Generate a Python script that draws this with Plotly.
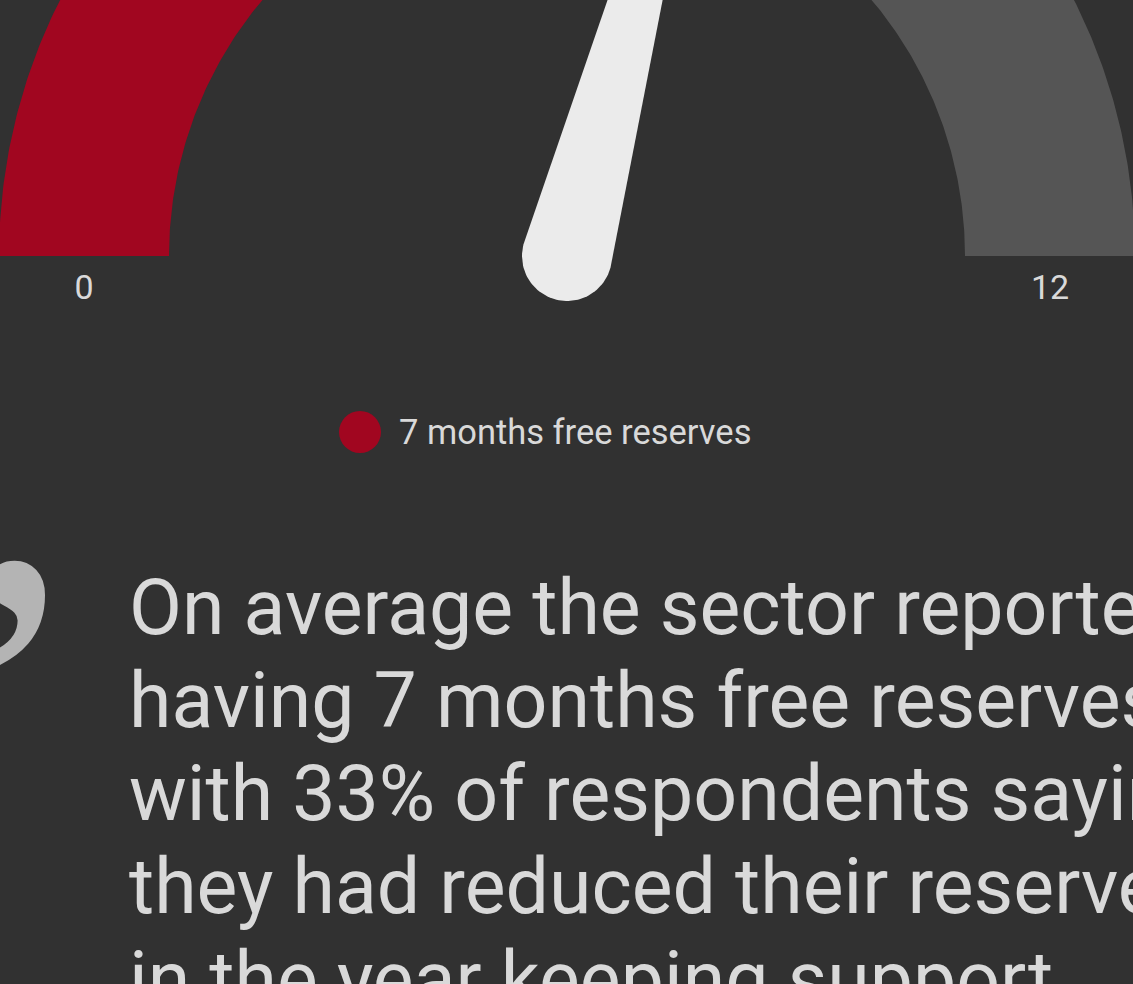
import numpy as np
import plotly.graph_objects as go

# ---- data ----
gauge_min = 0
gauge_max = 12
value = 7
series_name = "7 months free reserves"
tick_labels = ["0", "12"]
quote_lines = [
    "On average the sector reported",
    "having 7 months free reserves,",
    "with 33% of respondents saying",
    "they had reduced their reserves",
    "in the year keeping support",
]

# ---- style / layout ----
W, H = 1133, 984
BG = "#313131"
RED = "#A10620"
GREY = "#555555"
NEEDLE = "#EBEBEB"
TXT = "#D9D9D9"
cx, cy = 567, 256
r_in, r_out = 398, 568


def ang(v):
    return np.pi * (1 - (v - gauge_min) / (gauge_max - gauge_min))


def band(v0, v1, n=200):
    t = np.linspace(ang(v0), ang(v1), n)
    xo = cx + r_out * np.cos(t)
    yo = cy - r_out * np.sin(t)
    xi = cx + r_in * np.cos(t[::-1])
    yi = cy - r_in * np.sin(t[::-1])
    return np.r_[xo, xi, xo[:1]], np.r_[yo, yi, yo[:1]]


fig = go.Figure()
for v0, v1, col in [(value, gauge_max, GREY), (gauge_min, value, RED)]:
    bx, by = band(v0, v1)
    fig.add_trace(go.Scatter(x=bx, y=by, mode="lines", fill="toself",
                             fillcolor=col, line=dict(width=0, color=col),
                             hoverinfo="skip", showlegend=False))

# needle
a = ang(value)
ux, uy = np.cos(a), -np.sin(a)          # direction (pixel coords, y down)
px_, py_ = -uy, ux                      # perpendicular
base_w, top_w, L = 90, 15, 540
pts_x, pts_y = [], []
for t in np.linspace(0, np.pi, 60):
    dx = np.cos(t) * px_ - np.sin(t) * ux
    dy = np.cos(t) * py_ - np.sin(t) * uy
    pts_x.append(cx + base_w / 2 * dx)
    pts_y.append(cy + base_w / 2 * dy)
tipL = (cx + L * ux - top_w / 2 * px_, cy + L * uy - top_w / 2 * py_)
tipR = (cx + L * ux + top_w / 2 * px_, cy + L * uy + top_w / 2 * py_)
pts_x += [tipL[0], tipR[0], pts_x[0]]
pts_y += [tipL[1], tipR[1], pts_y[0]]
fig.add_trace(go.Scatter(x=pts_x, y=pts_y, mode="lines", fill="toself",
                         fillcolor=NEEDLE, line=dict(width=0, color=NEEDLE),
                         hoverinfo="skip", showlegend=False))

# tick labels at band mid radius
r_mid = (r_in + r_out) / 2
lab_x = [cx + r_mid * np.cos(ang(gauge_min)), cx + r_mid * np.cos(ang(gauge_max))]
fig.add_trace(go.Scatter(x=lab_x, y=[cy + 34] * 2, mode="text", text=tick_labels,
                         textfont=dict(family="Roboto", size=34, color=TXT),
                         hoverinfo="skip", showlegend=False))

# legend (drawn)
fig.add_trace(go.Scatter(x=[360], y=[432], mode="markers",
                         marker=dict(size=42, color=RED),
                         hoverinfo="skip", showlegend=False))
fig.add_annotation(x=397, y=432, xref="x", yref="y", text=series_name,
                   xanchor="left", yanchor="middle", showarrow=False,
                   font=dict(family="Roboto", size=34.5, color=TXT))


def ppy(ypix):
    return 1 - ypix / H


def ppx(xpix):
    return xpix / W


# quote
for i, line in enumerate(quote_lines):
    fig.add_annotation(x=127, y=ppy(636 + 93 * i + 19), xref="x", yref="paper",
                       text=line, xanchor="left", yanchor="bottom", showarrow=False,
                       font=dict(family="Roboto", size=77, color=TXT))

fig.add_annotation(x=ppx(-60), y=ppy(460), xref="paper", yref="paper", text="\u2019",
                   xanchor="left", yanchor="top", showarrow=False,
                   font=dict(family="Liberation Serif", size=435, color="#B4B4B4"),
                   )

fig.update_layout(width=W, height=H, margin=dict(l=0, r=0, t=0, b=0),
                  paper_bgcolor=BG, plot_bgcolor=BG,
                  xaxis=dict(range=[0, W], visible=False, fixedrange=True),
                  yaxis=dict(range=[H, 0], visible=False, fixedrange=True),
                  showlegend=False)
fig.write_html("out.html", config={"displayModeBar": False},
               post_script="document.body.style.margin='0';"
                           "document.body.style.background='" + BG + "';"
                           "document.body.style.overflow='hidden';")
